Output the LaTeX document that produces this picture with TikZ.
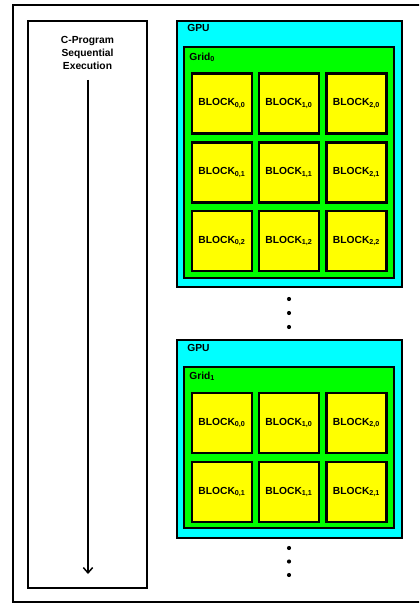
\documentclass[tikz,border=0pt]{standalone}
\usepackage{fontspec}
\setmainfont{Liberation Sans}
\usetikzlibrary{arrows.meta,positioning}
\definecolor{gpucyan}{RGB}{0,255,255}
\definecolor{gridgreen}{RGB}{0,255,0}
\definecolor{blockyellow}{RGB}{255,255,0}
\tikzset{
  every node/.style={font=\bfseries\fontsize{7.7}{9.4}\selectfont},
  frame/.style={draw=black,line width=2.2pt,fill=white,inner sep=0pt},
  gpu/.style={draw=black,line width=1.6pt,fill=gpucyan,inner sep=0pt,minimum width=168.75pt},
  grid/.style={draw=black,line width=1.6pt,fill=gridgreen,inner sep=0pt,minimum width=157.5pt},
  block/.style={draw=black,line width=1.6pt,fill=blockyellow,inner sep=0pt,minimum width=45pt,minimum height=45pt},
  tag/.style={anchor=west,inner sep=0pt},
  flow/.style={-{Straight Barb[length=4pt,width=7pt]},line width=1.1pt},
  dot/.style={circle,fill=black,inner sep=0pt,minimum size=3.1pt}
}
\begin{document}
\begin{tikzpicture}[x=0.75pt,y=-0.75pt]
\path[use as bounding box,clip] (0,0) rectangle (419,605);
\fill[white] (0,0) rectangle (419,605);
% outer frame, runs off the right edge
\node[frame,minimum width=312.75pt,minimum height=447.75pt] (outer) at (221.5,303.5) {};
% sequential host program
\node[frame,minimum width=89.25pt,minimum height=425.25pt] (host) at (87.5,304.5) {};
\node[align=center] (hosttxt) at (87.5,53) {C-Program\\Sequential\\Execution};
\coordinate (hostend) at (88,574);
\draw[flow] (88,80) -- (hostend);
% first kernel launch
\node[gpu,minimum height=199.5pt] (gpuA) at (289.5,154) {};
\node[tag] (gpuAtxt) at (187,28) {GPU};
\node[grid,minimum height=173.25pt] (gridA) at (289,162.5) {};
\node[tag] (gridAtxt) at (189,57.5) {Grid\textsubscript{0}};
\foreach \i/\x in {0/222,1/289,2/356.5}
  \foreach \j/\y in {0/103.5,1/172.5,2/241}
    \node[block] (blkA\i\j) at (\x,\y) {BLOCK\textsubscript{\i,\j}};
\node[dot] (dotA1) at (289,299) {};
\node[dot] (dotA2) at (289,313) {};
\node[dot] (dotA3) at (289,327) {};
% second kernel launch
\node[gpu,minimum height=148.5pt] (gpuB) at (289.5,439) {};
\node[tag] (gpuBtxt) at (187,347.5) {GPU};
\node[grid,minimum height=120.75pt] (gridB) at (289,447.5) {};
\node[tag] (gridBtxt) at (189,376.5) {Grid\textsubscript{1}};
\foreach \i/\x in {0/222,1/289,2/356.5}
  \foreach \j/\y in {0/423,1/492}
    \node[block] (blkB\i\j) at (\x,\y) {BLOCK\textsubscript{\i,\j}};
\node[dot] (dotB1) at (289,548) {};
\node[dot] (dotB2) at (289,561.5) {};
\node[dot] (dotB3) at (289,575) {};
\end{tikzpicture}
\end{document}
